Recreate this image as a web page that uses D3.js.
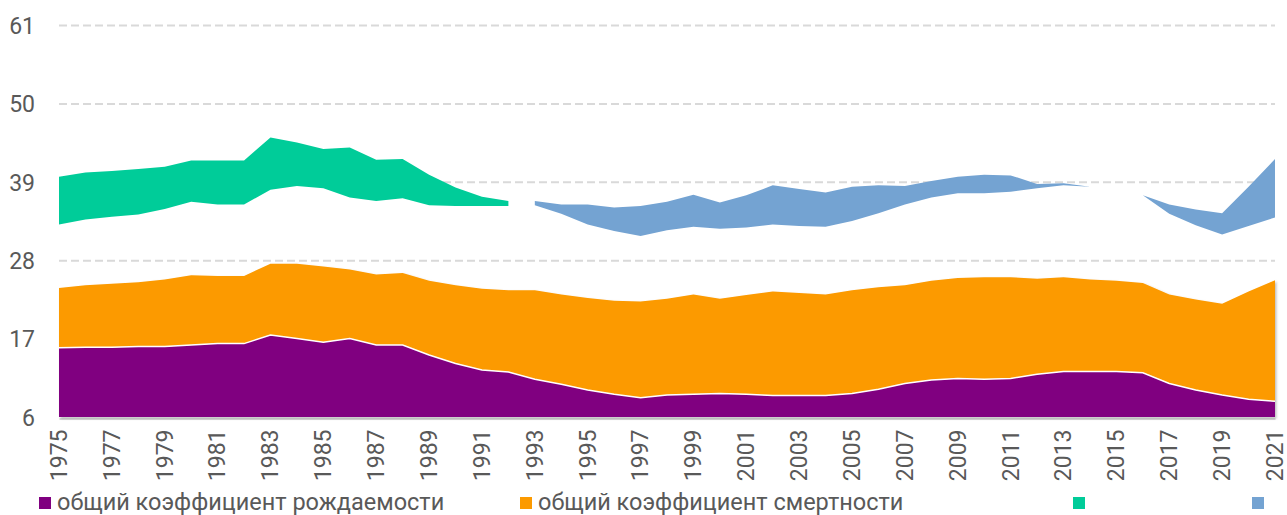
<!DOCTYPE html>
<meta charset="utf-8">
<head>
<script src="https://cdn.jsdelivr.net/npm/d3@7"></script>
<style>
  body { margin: 0; background: #fff; }
  text { font-family: Roboto, "Noto Sans", sans-serif; fill: #595959; }
</style>
</head>
<body>
<svg id="chart"></svg>
<script>

// years on the x axis
var years = [1975,1976,1977,1978,1979,1980,1981,1982,1983,1984,
             1985,1986,1987,1988,1989,1990,1991,1992,1993,1994,
             1995,1996,1997,1998,1999,2000,2001,2002,2003,2004,
             2005,2006,2007,2008,2009,2010,2011,2012,2013,2014,
             2015,2016,2017,2018,2019,2020,2021];

// общий коэффициент рождаемости
var birth = [15.7,15.8,15.8,15.9,15.9,16.1,16.3,16.3,17.5,17.0,
             16.5,17.0,16.1,16.1,14.7,13.5,12.6,12.3,11.3,10.6,
             9.8,9.2,8.7,9.1,9.2,9.3,9.2,9.0,9.0,9.0,
             9.3,9.9,10.7,11.2,11.4,11.3,11.4,12.0,12.4,12.4,
             12.4,12.2,10.7,9.8,9.1,8.5,8.2];

// общий коэффициент смертности
var death = [8.4,8.7,8.9,9.0,9.4,9.8,9.5,9.5,10.0,10.5,
             10.6,9.7,9.9,10.1,10.4,11.0,11.4,11.5,12.5,12.6,
             12.9,13.1,13.5,13.5,14.0,13.3,13.9,14.6,14.4,14.2,
             14.5,14.3,13.8,13.9,14.1,14.3,14.2,13.4,13.2,12.9,
             12.7,12.6,12.5,12.7,12.8,15.1,17.0];

// hidden series (no fill) that lifts the last two bands
var spacer = [8.9,9.2,9.4,9.5,9.9,10.3,10.0,10.0,10.4,10.9,
              11.0,10.1,10.3,10.5,10.6,11.1,11.6,11.8,11.9,11.3,
              10.3,9.8,9.2,9.6,9.5,9.8,9.5,9.4,9.4,9.5,
              9.7,10.4,11.3,11.7,11.9,11.8,12.0,12.7,12.9,13.0,
              null,12.3,11.3,10.4,9.7,9.2,8.8];

// green band
var increase = [6.7,6.6,6.4,6.4,5.9,5.8,6.2,6.2,7.3,6.1,
                5.5,7.0,5.8,5.5,4.3,2.6,1.3,0.7,null,null,
                null,null,null,null,null,null,null,null,null,null,
                null,null,null,null,null,null,null,null,null,null,
                null,null,null,null,null,null,null];

// blue band
var decrease = [null,null,null,null,null,null,null,null,null,null,
                null,null,null,null,null,null,null,null,0.6,1.3,
                2.8,3.3,4.2,4.0,4.5,3.7,4.5,5.5,5.2,4.8,
                4.8,3.9,2.6,2.3,2.3,2.6,2.3,0.6,0.3,0,
                null,0,1.3,2.2,3.0,5.5,8.2];

var yTicks = [6,17,28,39,50,61];
var keys = ["birth","death","spacer","increase","decrease"];
var colors = {birth:"#800080", death:"#FC9A00", spacer:"none", increase:"#00CC99", decrease:"#74A3D2"};
var legendLabels = ["общий коэффициент рождаемости","общий коэффициент смертности","",""];
var legendKeys = ["birth","death","increase","decrease"];

var width = 1287, height = 515;
var margin = {top: 25, right: 12, bottom: 98, left: 59};
var plotW = width - margin.left - margin.right;
var plotH = height - margin.top - margin.bottom;

var svg = d3.select("#chart").attr("width", width).attr("height", height);

var defs = svg.append("defs");
var f = defs.append("filter").attr("id","shadow")
  .attr("x","-5%").attr("y","-5%").attr("width","110%").attr("height","110%");
f.append("feDropShadow").attr("dx",1.5).attr("dy",1.5).attr("stdDeviation",1)
  .attr("flood-color","#000").attr("flood-opacity",0.25);

var g = svg.append("g").attr("transform","translate("+margin.left+","+margin.top+")");

var x = d3.scaleLinear().domain([1975,2021]).range([0, plotW]);
var y = d3.scaleLinear().domain([6,61]).range([plotH, 0]).clamp(true);

var rows = years.map(function(yr, i){
  return {year: yr, birth: birth[i], death: death[i], spacer: spacer[i],
          increase: increase[i], decrease: decrease[i]};
});

var series = d3.stack().keys(keys)
  .value(function(d, k){ return d[k] == null ? 0 : d[k]; })(rows);

// grid
var yAxis = g.append("g")
  .call(d3.axisLeft(y).tickValues(yTicks).tickSize(-plotW).tickPadding(24));
yAxis.select(".domain").remove();
yAxis.selectAll(".tick line")
  .attr("stroke","#d9d9d9").attr("stroke-width",2).attr("stroke-dasharray","8,4")
  .filter(function(d){ return d === 6; }).remove();
yAxis.selectAll(".tick text")
  .style("font-size","23px").attr("fill","#595959").attr("dy","0.36em");

// x axis
var xAxis = g.append("g").attr("transform","translate(0,"+(plotH+1.5)+")")
  .call(d3.axisBottom(x).tickValues(years.filter(function(d,i){ return i % 2 === 0; }))
        .tickSize(0).tickFormat(d3.format("d")));
xAxis.select(".domain").attr("stroke","#d9d9d9").attr("stroke-width",2);
xAxis.selectAll(".tick text")
  .style("font-size","23px").attr("fill","#595959")
  .attr("transform","rotate(-90)")
  .attr("text-anchor","end")
  .attr("x",-11).attr("y",0).attr("dy","0.32em");

function area(key){
  return d3.area()
    .defined(function(d){ return d.data[key] != null; })
    .x(function(d){ return x(d.data.year); })
    .y0(function(d){ return y(d[0]); })
    .y1(function(d){ return y(d[1]); });
}

var lower = g.append("g").attr("filter","url(#shadow)");
var upper = g.append("g");

series.forEach(function(s){
  if (colors[s.key] === "none") return;
  var target = (s.key === "birth" || s.key === "death") ? lower : upper;
  target.append("path").datum(s)
    .attr("fill", colors[s.key])
    .attr("d", area(s.key));
});

// thin white line between birth and death bands
lower.append("path").datum(series[0])
  .attr("fill","none").attr("stroke","#fff").attr("stroke-width",1.5)
  .attr("d", d3.line().x(function(d){ return x(d.data.year); }).y(function(d){ return y(d[1]); }));

// legend
var legendX = [39, 520, 1073, 1252];
var legend = svg.append("g").attr("transform","translate(0,497)");
legendKeys.forEach(function(k, i){
  var item = legend.append("g").attr("transform","translate("+legendX[i]+",0)");
  item.append("rect").attr("width",12).attr("height",12).attr("fill",colors[k]);
  item.append("text").attr("x",18).attr("y",12.5).style("font-size","23.5px")
    .attr("fill","#595959").text(legendLabels[i]);
});

</script>
</body>
